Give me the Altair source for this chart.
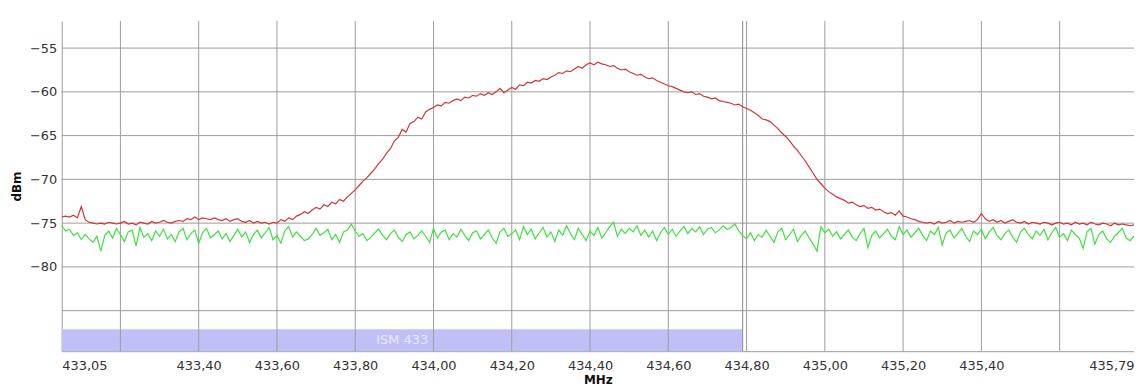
import altair as alt
import pandas as pd

# ---------------- data ----------------
f_start = 433.05
f_step = 0.01

red_dbm = [
    -74.3, -74.2, -74.3, -74.1, -74.4, -73.1, -74.6, -74.9, -75.0, -75.1,
    -75.0, -75.1, -74.9, -75.0, -75.1, -75.0, -74.8, -75.1, -75.0, -75.2,
    -74.9, -75.0, -75.1, -74.8, -75.0, -74.9, -74.7, -74.9, -75.0, -74.8,
    -74.7, -74.8, -74.5, -74.6, -74.3, -74.6, -74.4, -74.5, -74.6, -74.4,
    -74.6, -74.7, -74.5, -74.8, -74.6, -74.5, -74.8, -74.9, -74.7, -75.0,
    -74.8, -75.0, -74.9, -75.1, -74.9, -75.0, -74.6, -74.8, -74.4, -74.6,
    -74.2, -74.0, -73.7, -73.9, -73.5, -73.2, -73.4, -72.9, -73.1, -72.6,
    -72.8, -72.3, -72.5, -72.0, -71.6, -71.2, -70.7, -70.2, -69.8, -69.3,
    -68.8, -68.2, -67.7, -67.0, -66.5, -65.6, -65.2, -64.3, -64.6, -63.6,
    -63.4, -62.9, -63.1, -62.3, -62.0, -61.8, -61.5, -61.6, -61.2, -61.3,
    -61.0, -60.8, -61.0, -60.6, -60.7, -60.4, -60.5, -60.2, -60.4, -60.1,
    -60.3, -60.0, -59.6, -60.1, -59.8, -59.5, -59.7, -59.2, -59.3, -58.9,
    -59.0, -58.7, -58.8, -58.5, -58.6, -58.3, -58.1, -57.8, -57.9, -57.6,
    -57.7, -57.4, -57.1, -57.3, -56.9, -56.7, -56.9, -56.6, -56.8, -56.9,
    -57.1, -57.0, -57.3, -57.5, -57.4, -57.7, -57.9, -58.1, -58.0, -58.3,
    -58.5, -58.4, -58.7, -58.9, -59.1, -59.3, -59.4, -59.6, -59.8, -60.0,
    -60.1, -60.0, -60.3, -60.2, -60.5, -60.6, -60.8, -60.7, -61.0, -61.1,
    -61.2, -61.3, -61.5, -61.4, -61.7, -61.9, -62.1, -62.4, -62.7, -63.1,
    -63.2, -63.4, -63.8, -64.2, -64.7, -65.1, -65.6, -66.2, -66.7, -67.3,
    -67.9, -68.6, -69.3, -70.0, -70.5, -71.0, -71.4, -71.7, -72.0, -72.2,
    -72.4, -72.7, -72.6, -72.9, -73.1, -73.0, -73.3, -73.2, -73.5, -73.4,
    -73.7, -73.9, -73.8, -74.1, -73.6, -74.2, -74.3, -74.5, -74.6, -74.8,
    -74.9, -75.0, -74.9, -75.1, -74.8, -75.0, -74.9, -74.7, -75.0, -74.8,
    -74.9, -74.8, -74.7, -74.9, -74.6, -73.9, -74.5, -74.8, -74.6, -74.9,
    -74.7, -75.0, -74.8, -74.6, -74.9, -75.0, -74.8, -75.1, -74.9, -75.0,
    -75.1, -74.9, -75.0, -75.2, -75.0, -74.9, -75.1, -75.0, -75.2, -74.9,
    -75.1, -75.0, -75.2, -74.9, -75.1, -75.2, -75.0, -75.1, -75.3, -75.0,
    -75.2, -75.1, -75.2, -75.3, -75.2,
]

green_dbm = [
    -75.3, -75.9, -75.7, -76.4, -76.1, -76.9, -76.3, -76.8, -77.2, -76.5,
    -78.2, -76.4, -75.9, -76.7, -75.6, -76.3, -77.1, -76.0, -75.8, -77.6,
    -75.5, -76.6, -76.2, -77.0, -75.9, -76.5, -75.7, -76.8, -76.3, -77.1,
    -76.0, -75.6, -76.9, -76.2, -75.8, -77.3, -76.1, -75.6, -76.7, -76.3,
    -75.9, -76.8, -76.2, -77.1, -76.4, -75.7, -76.6, -76.0, -77.2, -76.3,
    -75.8, -76.7, -76.1, -75.5, -76.9, -76.4, -77.3, -75.9, -75.4, -76.6,
    -76.0, -76.5, -77.0, -76.8, -76.3, -75.6, -76.4, -76.1, -75.7, -76.9,
    -76.3, -77.2, -76.0, -75.8, -75.1, -75.9, -76.5, -76.2, -77.0, -76.6,
    -76.1, -75.7, -76.4, -76.9, -76.2, -75.8, -76.6, -77.1, -76.3, -76.0,
    -76.8, -76.4, -75.9, -76.5, -77.2, -75.6, -76.7, -76.0, -75.8, -76.9,
    -76.2, -76.6, -75.7, -76.4, -77.0, -76.1, -75.9, -76.8, -76.3, -75.8,
    -76.7, -77.3, -76.0, -75.6, -76.5, -76.2, -75.8, -76.9, -75.4, -76.3,
    -75.7, -76.8, -76.1, -75.5, -76.6, -76.0, -77.1, -75.8, -76.4, -75.3,
    -76.2, -76.9, -75.6, -76.3, -77.0, -75.9, -76.4, -75.5, -76.7, -76.1,
    -75.4, -74.9, -76.5, -75.7, -76.2, -75.6, -76.0, -75.3, -76.4, -75.8,
    -76.6, -75.9, -77.0, -76.1, -75.5, -76.3, -75.7, -76.5, -75.9, -75.4,
    -76.2, -75.6, -76.0, -75.4, -76.3, -75.7, -75.5, -76.1, -75.8, -75.3,
    -75.7, -75.5, -75.1, -75.9, -76.4, -76.8, -76.1, -77.0, -76.3, -76.6,
    -75.8, -76.5, -77.2, -76.0, -75.6, -76.9, -76.3, -75.7, -77.1, -76.4,
    -75.9, -76.7, -77.4, -78.2, -75.4, -76.1, -75.7, -76.5, -76.0, -76.8,
    -76.3, -75.8, -76.6, -77.0, -76.2, -75.6, -77.8, -76.4, -75.9, -76.7,
    -76.2, -75.7, -76.5, -76.9, -75.4, -76.3, -75.8, -76.6, -76.1, -75.6,
    -76.4, -77.0, -75.9, -76.3, -75.5, -77.5, -76.1, -75.8, -76.7, -76.2,
    -75.6, -76.5, -77.1, -75.9, -76.3, -75.7, -76.8, -76.0, -75.5, -76.4,
    -76.9, -76.2, -75.8, -76.6, -77.2, -76.0, -75.6, -76.3, -76.8, -75.9,
    -76.4, -75.7, -76.9, -76.1, -75.5, -76.6, -76.2, -77.0, -75.8, -76.3,
    -76.7, -77.9, -76.0, -75.6, -77.4, -76.3, -75.9, -76.8, -77.2, -76.5,
    -76.1, -75.6, -76.7, -77.0, -76.5,
]

x_labels = [433.05, 433.40, 433.60, 433.80, 434.00, 434.20, 434.40,
            434.60, 434.80, 435.00, 435.20, 435.40, 435.79]
x_grid = [433.20, 433.40, 433.60, 433.80, 434.00, 434.20, 434.40,
          434.60, 434.80, 435.00, 435.20, 435.40, 435.60]
y_labels = [-55, -60, -65, -70, -75, -80]
y_grid = [-55, -60, -65, -70, -75, -80, -85]

band_name = "ISM 433"
band_start = 433.05
band_end = 434.79
band_low = -89.63
band_high = -87.13

x_domain = [433.05, 435.79]
y_domain = [-89.63, -51.9]

# ---------------- tables ----------------
freq = [round(f_start + i * f_step, 2) for i in range(len(red_dbm))]
lines_df = pd.DataFrame({
    "f": freq * 2,
    "dbm": red_dbm + green_dbm,
    "trace": ["red"] * len(red_dbm) + ["green"] * len(green_dbm),
})
xgrid_df = pd.DataFrame({"f": x_grid})
ygrid_df = pd.DataFrame({"dbm": y_grid})
band_df = pd.DataFrame({
    "f": [band_start], "f2": [band_end],
    "dbm": [band_low], "dbm2": [band_high],
    "fc": [(band_start + band_end) / 2], "dbmc": [(band_low + band_high) / 2],
    "name": [band_name],
})
edge_df = pd.DataFrame({"f": [band_end]})

FONT = "DejaVu Sans"
GRID = "#9c9c9c"

xs = alt.Scale(domain=x_domain, nice=False, zero=False)
ys = alt.Scale(domain=y_domain, nice=False, zero=False)

x_axis = alt.Axis(
    values=x_labels, grid=False, ticks=False, domain=True,
    domainColor=GRID, labelFlush=True,
    labelExpr="replace(format(datum.value, '.2f'), '.', ',')",
    labelFont=FONT, labelFontSize=13, labelColor="#333333", labelPadding=8,
    title="MHz", titleFont=FONT, titleFontSize=12, titleFontWeight="bold",
    titleColor="#111111", titlePadding=2,
)
y_axis = alt.Axis(
    values=y_labels, grid=False, ticks=False, domain=True,
    domainColor=GRID, format="d",
    labelFont=FONT, labelFontSize=13, labelColor="#333333", labelPadding=5,
    title="dBm", titleFont=FONT, titleFontSize=12, titleFontWeight="bold",
    titleColor="#111111", titlePadding=6,
)

band = alt.Chart(band_df).mark_rect(color="#c0c0f7").encode(
    x=alt.X("f:Q", scale=xs, axis=x_axis), x2="f2",
    y=alt.Y("dbm:Q", scale=ys, axis=y_axis), y2="dbm2",
)
band_text = alt.Chart(band_df).mark_text(
    font=FONT, fontSize=13, color="#e8e8ff"
).encode(
    x=alt.X("fc:Q", scale=xs, axis=x_axis),
    y=alt.Y("dbmc:Q", scale=ys, axis=y_axis),
    text="name:N",
)
vgrid = alt.Chart(xgrid_df).mark_rule(color=GRID, strokeWidth=1).encode(
    x=alt.X("f:Q", scale=xs, axis=x_axis)
)
hgrid = alt.Chart(ygrid_df).mark_rule(color=GRID, strokeWidth=1).encode(
    y=alt.Y("dbm:Q", scale=ys, axis=y_axis)
)
edge = alt.Chart(edge_df).mark_rule(color="#8a8a8a", strokeWidth=1).encode(
    x=alt.X("f:Q", scale=xs, axis=x_axis)
)
traces = alt.Chart(lines_df).mark_line(strokeWidth=1.2).encode(
    x=alt.X("f:Q", scale=xs, axis=x_axis),
    y=alt.Y("dbm:Q", scale=ys, axis=y_axis),
    color=alt.Color("trace:N", scale=alt.Scale(domain=["red", "green"],
                                               range=["#d03636", "#3fe03f"]),
                    legend=None),
    detail="trace:N",
)

chart = alt.layer(band, vgrid, hgrid, edge, band_text, traces).properties(
    width=1078, height=332,
    autosize=alt.AutoSizeParams(type="none"),
    padding={"left": 54, "top": 12, "right": 0, "bottom": 36},
    background="white",
).configure_view(stroke=None)

chart.save("out.html", embed_options={"renderer": "svg", "actions": False})
